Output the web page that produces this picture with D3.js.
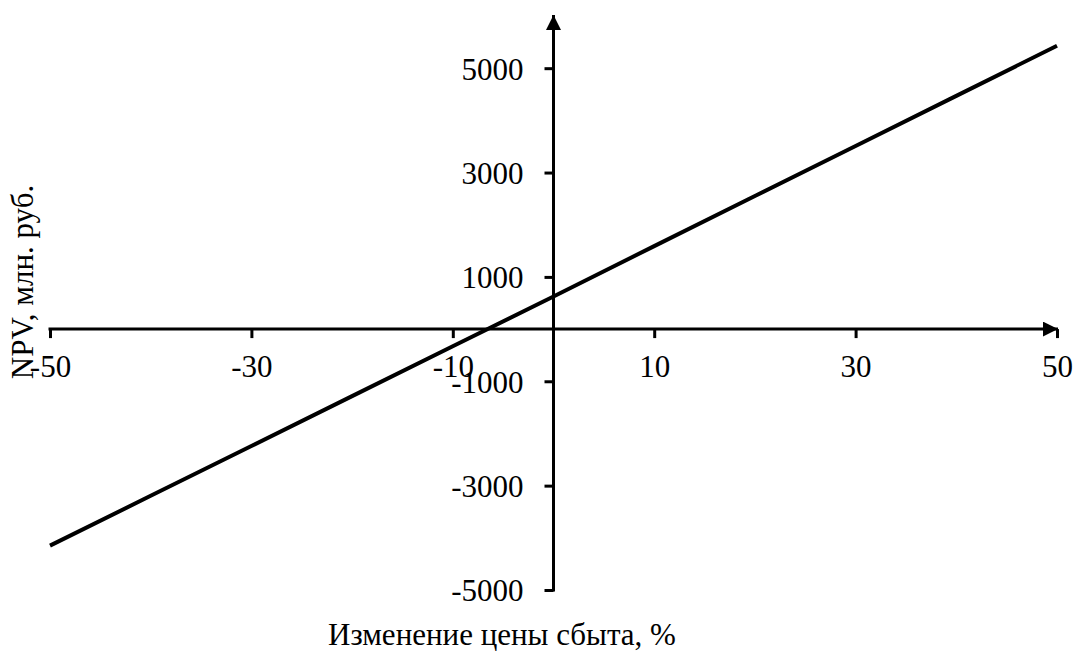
<!DOCTYPE html>
<html>
<head>
<meta charset="utf-8">
<script src="https://cdn.jsdelivr.net/npm/d3@7"></script>
<style>
  html, body { margin: 0; padding: 0; background: #fff; }
  svg { display: block; }
  text { font-family: "Liberation Serif", "Times New Roman", serif; fill: #000; }
</style>
</head>
<body>
<svg id="chart" width="1076" height="651"></svg>
<script>
// Price change, % and resulting NPV, mln rub.
const priceChange = [-50, -40, -30, -20, -10, 0, 10, 20, 30, 40, 50];
const npvValues = [-4150, -3195, -2240, -1285, -330, 625, 1590, 2550, 3510, 4470, 5430];
const xTickValues = [-50, -30, -10, 10, 30, 50];
const yTickValues = [-5000, -3000, -1000, 1000, 3000, 5000];
const xTitle = "Изменение цены сбыта, %";
const yTitle = "NPV, млн. руб.";

const svg = d3.select("#chart");
const fontSize = "31px";
const plain = d => String(d); // hyphen-minus, as in the source sheet

const x = d3.scaleLinear().domain([-50, 50]).range([50, 1057]);
const y = d3.scaleLinear().domain([-5000, 6000]).range([590, 16]);

// arrowhead
svg.append("defs").append("marker")
  .attr("id", "arrow")
  .attr("viewBox", "0 0 10 10")
  .attr("refX", 10).attr("refY", 5)
  .attr("markerUnits", "userSpaceOnUse")
  .attr("markerWidth", 16).attr("markerHeight", 15)
  .attr("orient", "auto")
  .append("path")
  .attr("d", "M0,0 L10,5 L0,10 Z")
  .attr("fill", "#000");

// x axis through NPV = 0
const xAxis = svg.append("g")
  .attr("transform", `translate(0,${y(0)})`)
  .call(d3.axisBottom(x).tickValues(xTickValues).tickSize(9).tickSizeOuter(0).tickFormat(plain));
xAxis.select(".domain").remove();
xAxis.selectAll(".tick line").attr("stroke", "#000").attr("stroke-width", 3);
xAxis.selectAll(".tick text")
  .attr("y", 37).attr("dy", "0.35em")
  .style("font-size", fontSize).style("font-family", "'Liberation Serif', serif");
xAxis.append("line")
  .attr("x1", x(-50) - 1.5).attr("x2", x(50) + 1)
  .attr("y1", 0).attr("y2", 0)
  .attr("stroke", "#000").attr("stroke-width", 3)
  .attr("marker-end", "url(#arrow)");

// y axis through 0 %
const yAxis = svg.append("g")
  .attr("transform", `translate(${x(0)},0)`)
  .call(d3.axisLeft(y).tickValues(yTickValues).tickSize(9).tickSizeOuter(0).tickFormat(plain));
yAxis.select(".domain").remove();
yAxis.selectAll(".tick line").attr("stroke", "#000").attr("stroke-width", 3);
yAxis.selectAll(".tick text")
  .attr("x", -30).attr("dy", "0.35em")
  .style("font-size", fontSize).style("font-family", "'Liberation Serif', serif");
yAxis.append("line")
  .attr("x1", 0).attr("x2", 0)
  .attr("y1", y(-5000) + 1.5).attr("y2", y(6000) - 1)
  .attr("stroke", "#000").attr("stroke-width", 3)
  .attr("marker-end", "url(#arrow)");

// NPV line
const line = d3.line().x((d, i) => x(priceChange[i])).y(d => y(d));
svg.append("path")
  .datum(npvValues)
  .attr("d", line)
  .attr("fill", "none")
  .attr("stroke", "#000")
  .attr("stroke-width", 4);

// axis titles
svg.append("text")
  .attr("x", 502).attr("y", 645)
  .attr("text-anchor", "middle")
  .style("font-size", fontSize)
  .text(xTitle);

svg.append("text")
  .attr("transform", "translate(33,282) rotate(-90)")
  .attr("text-anchor", "middle")
  .style("font-size", fontSize)
  .text(yTitle);
</script>
</body>
</html>
